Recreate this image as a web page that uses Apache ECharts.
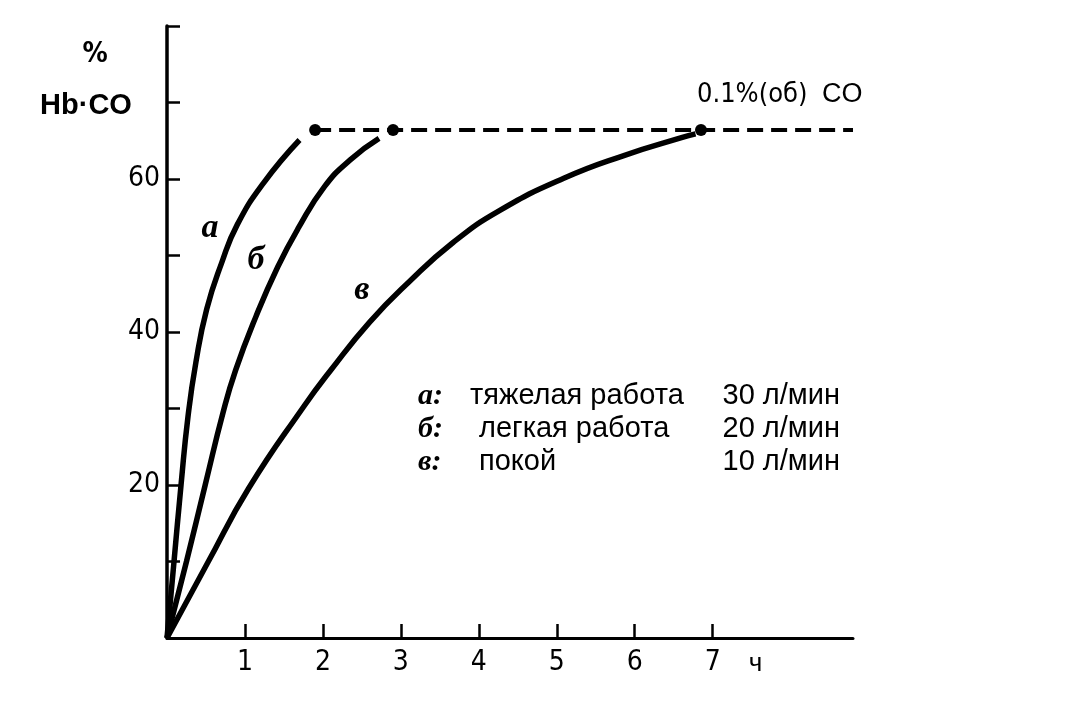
<!DOCTYPE html>
<html>
<head>
<meta charset="utf-8">
<script src="https://cdn.jsdelivr.net/npm/echarts@6/dist/echarts.min.js"></script>
<style>html,body{margin:0;padding:0;background:#fff}#c{width:1072px;height:711px}</style>
</head>
<body>
<div id="c"></div>
<script>
// ---- data ----
const xTicks = [1, 2, 3, 4, 5, 6, 7];
const yTicks = [10, 20, 30, 40, 50, 60, 70, 80];
const yLabels = [20, 40, 60];
// curve а: heavy work 30 l/min
const tA = [0, 0.09, 0.18, 0.27, 0.37, 0.51, 0.70, 0.90, 1.24, 1.70];
const vA = [0, 10, 20, 29, 36, 43, 49, 54, 59.5, 65.1];
// curve б: light work 20 l/min
const tB = [0, 0.25, 0.49, 0.72, 0.88, 1.14, 1.42, 1.68, 2.02, 2.35, 2.72];
const vB = [0, 10, 20, 29.5, 35, 42, 48.5, 53.5, 59, 62.5, 65.3];
// curve в: rest 10 l/min
const tC = [0, 0.52, 1.05, 1.75, 2.1, 2.6, 3.1, 3.67, 4.27, 5.09, 5.87, 6.6, 6.78];
const vC = [0, 9.8, 19.6, 30.2, 35, 41.3, 46.5, 51.7, 55.9, 60.1, 63.1, 65.4, 65.9];
// saturation plateau (0.1 % CO) and its marked points
const plateauT = [1.9, 8.8];
const plateauV = [66.4, 66.4];
const dotT = [1.9, 2.9, 6.85];
const dotV = [66.4, 66.4, 66.4];
const legendLetters = ['а:', 'б:', 'в:'];
const legendTexts = ['тяжелая работа', 'легкая работа', 'покой'];
const legendRates = ['30 л/мин', '20 л/мин', '10 л/мин'];
const curveLetters = ['а', 'б', 'в'];

const pairs = (xs, ys) => xs.map((x, i) => [x, ys[i]]);
const NARROW = '"Liberation Sans Narrow", "DejaVu Sans Condensed", "Liberation Sans", sans-serif';
const SANS = '"Liberation Sans", Arial, sans-serif';
const ITAL = '"Liberation Serif", "DejaVu Serif", serif';

const chart = echarts.init(document.getElementById('c'));
const curveStyle = {color: '#000', width: 5.5};
const curve = (d) => ({type: 'line', data: d, smooth: 0.5, showSymbol: false, lineStyle: curveStyle});
chart.setOption({
  animation: false,
  backgroundColor: '#fff',
  grid: {left: 167, right: 219, top: 26, bottom: 73},
  xAxis: {
    type: 'value', min: 0, max: 8.8, interval: 1,
    axisLine: {lineStyle: {color: '#000', width: 3}},
    axisTick: {inside: true, length: 14, customValues: xTicks, lineStyle: {color: '#000', width: 2.5}},
    axisLabel: {customValues: xTicks, color: '#000', fontSize: 28, fontFamily: NARROW, margin: 11},
    splitLine: {show: false}
  },
  yAxis: {
    type: 'value', min: 0, max: 80, interval: 10,
    axisLine: {lineStyle: {color: '#000', width: 3.5}},
    axisTick: {inside: true, length: 13, customValues: yTicks, lineStyle: {color: '#000', width: 2.5}},
    axisLabel: {customValues: yLabels, color: '#000', fontSize: 28, fontFamily: NARROW, margin: 7},
    splitLine: {show: false}
  },
  series: [
    curve(pairs(tA, vA)),
    curve(pairs(tB, vB)),
    curve(pairs(tC, vC)),
    {type: 'line', data: pairs(plateauT, plateauV), showSymbol: false,
     lineStyle: {color: '#000', width: 4, type: [16, 8]}},
    {type: 'scatter', data: pairs(dotT, dotV), symbolSize: 12, itemStyle: {color: '#000', opacity: 1}}
  ]
});

// text annotations anchored to data coordinates
const px = (x, y) => chart.convertToPixel({gridIndex: 0}, [x, y]);
const letterPos = [[0.55, 53.6], [1.14, 49.4], [2.5, 45.5]];
const g = [];
curveLetters.forEach((l, i) => {
  const p = px(letterPos[i][0], letterPos[i][1]);
  g.push({type: 'text', x: p[0], y: p[1], style: {text: l, fill: '#000', font: 'italic bold 34px ' + ITAL, align: 'center', verticalAlign: 'middle'}});
});
const rowY = [396, 429, 462];
legendLetters.forEach((l, i) => {
  g.push({type: 'text', x: 418, y: rowY[i], style: {text: l, fill: '#000', font: 'italic bold 30px ' + ITAL, verticalAlign: 'middle'}});
  g.push({type: 'text', x: i === 0 ? 470 : 479, y: rowY[i], style: {text: legendTexts[i], fill: '#000', font: '29px ' + SANS, verticalAlign: 'middle'}});
  g.push({type: 'text', x: 840, y: rowY[i], style: {text: legendRates[i], fill: '#000', font: '29px ' + SANS, align: 'right', verticalAlign: 'middle'}});
});
const pc = px(7.55, 0);
g.push({type: 'text', x: pc[0], y: 664, style: {text: 'ч', fill: '#000', font: '26px ' + SANS, align: 'center', verticalAlign: 'middle'}});
g.push({type: 'text', x: 697, y: 95, style: {text: '0.1%(об)', fill: '#000', font: '27px ' + NARROW, verticalAlign: 'middle'}});
g.push({type: 'text', x: 822, y: 95, style: {text: 'CO', fill: '#000', font: '27px ' + SANS, verticalAlign: 'middle'}});
g.push({type: 'text', x: 95, y: 55, style: {text: '%', fill: '#000', font: 'bold 28px ' + NARROW, align: 'center', verticalAlign: 'middle'}});
g.push({type: 'text', x: 86, y: 106, style: {text: 'Hb·CO', fill: '#000', font: 'bold 29px ' + SANS, align: 'center', verticalAlign: 'middle'}});
chart.setOption({graphic: g});
</script>
</body>
</html>
